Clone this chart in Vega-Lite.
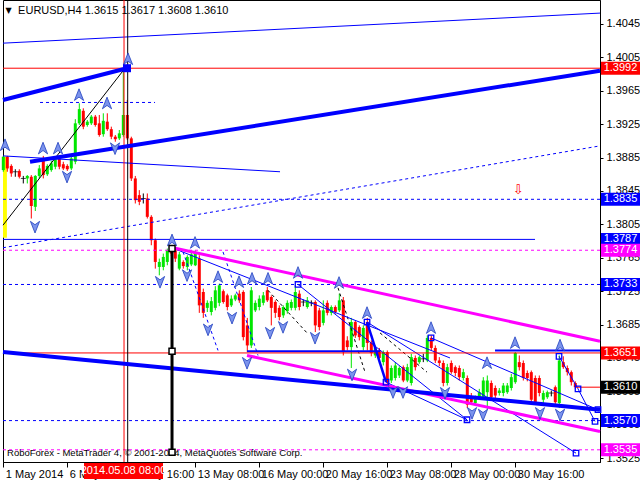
{
"$schema":"https://vega.github.io/schema/vega-lite/v6.json",
"width":597,"height":462,"autosize":{"type":"none"},
"padding":{"left":3,"top":0,"right":40,"bottom":18},
"background":"white",
"resolve":{"axis":{"x":"independent","y":"independent"}},
"config":{"view":{"stroke":"#000","strokeWidth":1},
 "axis":{"grid":false,"labelFont":"Liberation Sans","labelFontSize":11,"labelColor":"#000","domainColor":"#000","tickColor":"#000","labelOverlap":false,"labelFlush":false,"labelBound":false},
 "text":{"font":"Liberation Sans"}},
"datasets":{
"candles":[
{"x":0,"o":1.3870,"h":1.3887,"l":1.3868,"c":1.3886},
{"x":1,"o":1.3886,"h":1.3887,"l":1.3868,"c":1.3872},
{"x":2,"o":1.3875,"h":1.3877,"l":1.3862,"c":1.3866},
{"x":3,"o":1.3868,"h":1.3871,"l":1.3862,"c":1.3868},
{"x":4,"o":1.3869,"h":1.3871,"l":1.3860,"c":1.3862},
{"x":5,"o":1.3860,"h":1.3863,"l":1.3854,"c":1.3860},
{"x":6,"o":1.3860,"h":1.3864,"l":1.3854,"c":1.3863},
{"x":7,"o":1.3862,"h":1.3864,"l":1.3812,"c":1.3827},
{"x":8,"o":1.3826,"h":1.3864,"l":1.3821,"c":1.3863},
{"x":9,"o":1.3863,"h":1.3876,"l":1.3860,"c":1.3872},
{"x":10,"o":1.3884,"h":1.3887,"l":1.3860,"c":1.3864},
{"x":11,"o":1.3865,"h":1.3877,"l":1.3863,"c":1.3875},
{"x":12,"o":1.3870,"h":1.3881,"l":1.3868,"c":1.3878},
{"x":13,"o":1.3874,"h":1.3886,"l":1.3871,"c":1.3883},
{"x":14,"o":1.3884,"h":1.3887,"l":1.3871,"c":1.3874},
{"x":15,"o":1.3877,"h":1.3880,"l":1.3870,"c":1.3872},
{"x":16,"o":1.3875,"h":1.3877,"l":1.3869,"c":1.3871},
{"x":17,"o":1.3872,"h":1.3887,"l":1.3870,"c":1.3884},
{"x":18,"o":1.3880,"h":1.3931,"l":1.3877,"c":1.3926},
{"x":19,"o":1.3926,"h":1.3950,"l":1.3924,"c":1.3943},
{"x":20,"o":1.3941,"h":1.3944,"l":1.3919,"c":1.3922},
{"x":21,"o":1.3924,"h":1.3930,"l":1.3922,"c":1.3928},
{"x":22,"o":1.3926,"h":1.3936,"l":1.3924,"c":1.3934},
{"x":23,"o":1.3934,"h":1.3936,"l":1.3922,"c":1.3924},
{"x":24,"o":1.3926,"h":1.3936,"l":1.3910,"c":1.3912},
{"x":25,"o":1.3913,"h":1.3938,"l":1.3910,"c":1.3929},
{"x":26,"o":1.3928,"h":1.3938,"l":1.3917,"c":1.3919},
{"x":27,"o":1.3919,"h":1.3922,"l":1.3907,"c":1.3910},
{"x":28,"o":1.3910,"h":1.3912,"l":1.3904,"c":1.3907},
{"x":29,"o":1.3908,"h":1.3918,"l":1.3906,"c":1.3914},
{"x":30,"o":1.3912,"h":1.3992,"l":1.3910,"c":1.3936},
{"x":31,"o":1.3936,"h":1.3954,"l":1.3906,"c":1.3908},
{"x":32,"o":1.3908,"h":1.3910,"l":1.3857,"c":1.3860},
{"x":33,"o":1.3860,"h":1.3863,"l":1.3830,"c":1.3834},
{"x":34,"o":1.3840,"h":1.3846,"l":1.3828,"c":1.3832},
{"x":35,"o":1.3836,"h":1.3842,"l":1.3830,"c":1.3836},
{"x":36,"o":1.3836,"h":1.3842,"l":1.3812,"c":1.3814},
{"x":37,"o":1.3814,"h":1.3816,"l":1.3780,"c":1.3786},
{"x":38,"o":1.3786,"h":1.3788,"l":1.3752,"c":1.3760},
{"x":39,"o":1.3754,"h":1.3764,"l":1.3744,"c":1.3760},
{"x":40,"o":1.3754,"h":1.3770,"l":1.3750,"c":1.3766},
{"x":41,"o":1.3760,"h":1.3776,"l":1.3756,"c":1.3774},
{"x":42,"o":1.3774,"h":1.3779,"l":1.3767,"c":1.3770},
{"x":43,"o":1.3774,"h":1.3776,"l":1.3760,"c":1.3764},
{"x":44,"o":1.3752,"h":1.3772,"l":1.3750,"c":1.3769},
{"x":45,"o":1.3760,"h":1.3762,"l":1.3752,"c":1.3755},
{"x":46,"o":1.3754,"h":1.3768,"l":1.3750,"c":1.3766},
{"x":47,"o":1.3757,"h":1.3774,"l":1.3755,"c":1.3769},
{"x":48,"o":1.3756,"h":1.3774,"l":1.3755,"c":1.3772},
{"x":49,"o":1.3764,"h":1.3768,"l":1.3699,"c":1.3708},
{"x":50,"o":1.3724,"h":1.3728,"l":1.3693,"c":1.3699},
{"x":51,"o":1.3705,"h":1.3714,"l":1.3700,"c":1.3711},
{"x":52,"o":1.3700,"h":1.3718,"l":1.3696,"c":1.3713},
{"x":53,"o":1.3705,"h":1.3731,"l":1.3702,"c":1.3726},
{"x":54,"o":1.3711,"h":1.3734,"l":1.3707,"c":1.3732},
{"x":55,"o":1.3725,"h":1.3727,"l":1.3710,"c":1.3712},
{"x":56,"o":1.3720,"h":1.3722,"l":1.3702,"c":1.3706},
{"x":57,"o":1.3708,"h":1.3720,"l":1.3706,"c":1.3716},
{"x":58,"o":1.3715,"h":1.3722,"l":1.3713,"c":1.3720},
{"x":59,"o":1.3722,"h":1.3726,"l":1.3711,"c":1.3714},
{"x":60,"o":1.3724,"h":1.3726,"l":1.3666,"c":1.3670},
{"x":61,"o":1.3684,"h":1.3693,"l":1.3652,"c":1.3660},
{"x":62,"o":1.3660,"h":1.3730,"l":1.3657,"c":1.3726},
{"x":63,"o":1.3702,"h":1.3714,"l":1.3700,"c":1.3711},
{"x":64,"o":1.3706,"h":1.3720,"l":1.3702,"c":1.3716},
{"x":65,"o":1.3711,"h":1.3724,"l":1.3708,"c":1.3720},
{"x":66,"o":1.3726,"h":1.3730,"l":1.3712,"c":1.3714},
{"x":67,"o":1.3718,"h":1.3720,"l":1.3684,"c":1.3705},
{"x":68,"o":1.3712,"h":1.3714,"l":1.3693,"c":1.3699},
{"x":69,"o":1.3705,"h":1.3708,"l":1.3690,"c":1.3694},
{"x":70,"o":1.3696,"h":1.3708,"l":1.3693,"c":1.3706},
{"x":71,"o":1.3701,"h":1.3714,"l":1.3698,"c":1.3711},
{"x":72,"o":1.3705,"h":1.3715,"l":1.3702,"c":1.3712},
{"x":73,"o":1.3705,"h":1.3732,"l":1.3702,"c":1.3724},
{"x":74,"o":1.3722,"h":1.3726,"l":1.3702,"c":1.3706},
{"x":75,"o":1.3712,"h":1.3715,"l":1.3707,"c":1.3712},
{"x":76,"o":1.3706,"h":1.3718,"l":1.3704,"c":1.3714},
{"x":77,"o":1.3711,"h":1.3714,"l":1.3707,"c":1.3711},
{"x":78,"o":1.3712,"h":1.3714,"l":1.3676,"c":1.3684},
{"x":79,"o":1.3702,"h":1.3705,"l":1.3678,"c":1.3682},
{"x":80,"o":1.3687,"h":1.3714,"l":1.3684,"c":1.3702},
{"x":81,"o":1.3711,"h":1.3714,"l":1.3696,"c":1.3699},
{"x":82,"o":1.3699,"h":1.3708,"l":1.3696,"c":1.3706},
{"x":83,"o":1.3706,"h":1.3708,"l":1.3698,"c":1.3700},
{"x":84,"o":1.3702,"h":1.3722,"l":1.3700,"c":1.3714},
{"x":85,"o":1.3714,"h":1.3718,"l":1.3648,"c":1.3652},
{"x":86,"o":1.3666,"h":1.3671,"l":1.3654,"c":1.3658},
{"x":87,"o":1.3658,"h":1.3693,"l":1.3633,"c":1.3688},
{"x":88,"o":1.3688,"h":1.3690,"l":1.3669,"c":1.3672},
{"x":89,"o":1.3682,"h":1.3684,"l":1.3666,"c":1.3670},
{"x":90,"o":1.3658,"h":1.3684,"l":1.3654,"c":1.3681},
{"x":91,"o":1.3688,"h":1.3693,"l":1.3654,"c":1.3663},
{"x":92,"o":1.3663,"h":1.3666,"l":1.3647,"c":1.3651},
{"x":93,"o":1.3648,"h":1.3660,"l":1.3645,"c":1.3657},
{"x":94,"o":1.3654,"h":1.3657,"l":1.3642,"c":1.3645},
{"x":95,"o":1.3640,"h":1.3654,"l":1.3636,"c":1.3652},
{"x":96,"o":1.3652,"h":1.3654,"l":1.3612,"c":1.3616},
{"x":97,"o":1.3618,"h":1.3636,"l":1.3615,"c":1.3633},
{"x":98,"o":1.3621,"h":1.3640,"l":1.3618,"c":1.3636},
{"x":99,"o":1.3624,"h":1.3635,"l":1.3621,"c":1.3633},
{"x":100,"o":1.3634,"h":1.3636,"l":1.3616,"c":1.3618},
{"x":101,"o":1.3618,"h":1.3638,"l":1.3616,"c":1.3634},
{"x":102,"o":1.3615,"h":1.3650,"l":1.3612,"c":1.3646},
{"x":103,"o":1.3645,"h":1.3648,"l":1.3630,"c":1.3634},
{"x":104,"o":1.3640,"h":1.3648,"l":1.3638,"c":1.3646},
{"x":105,"o":1.3644,"h":1.3650,"l":1.3640,"c":1.3644},
{"x":106,"o":1.3642,"h":1.3672,"l":1.3640,"c":1.3669},
{"x":107,"o":1.3669,"h":1.3672,"l":1.3654,"c":1.3657},
{"x":108,"o":1.3657,"h":1.3660,"l":1.3639,"c":1.3642},
{"x":109,"o":1.3642,"h":1.3646,"l":1.3635,"c":1.3639},
{"x":110,"o":1.3639,"h":1.3642,"l":1.3611,"c":1.3615},
{"x":111,"o":1.3615,"h":1.3638,"l":1.3612,"c":1.3634},
{"x":112,"o":1.3639,"h":1.3642,"l":1.3626,"c":1.3628},
{"x":113,"o":1.3634,"h":1.3636,"l":1.3623,"c":1.3627},
{"x":114,"o":1.3633,"h":1.3636,"l":1.3618,"c":1.3622},
{"x":115,"o":1.3621,"h":1.3632,"l":1.3618,"c":1.3628},
{"x":116,"o":1.3621,"h":1.3624,"l":1.3585,"c":1.3589},
{"x":117,"o":1.3599,"h":1.3603,"l":1.3589,"c":1.3592},
{"x":118,"o":1.3591,"h":1.3600,"l":1.3588,"c":1.3597},
{"x":119,"o":1.3597,"h":1.3608,"l":1.3595,"c":1.3604},
{"x":120,"o":1.3598,"h":1.3622,"l":1.3595,"c":1.3618},
{"x":121,"o":1.3604,"h":1.3624,"l":1.3583,"c":1.3618},
{"x":122,"o":1.3615,"h":1.3618,"l":1.3595,"c":1.3598},
{"x":123,"o":1.3609,"h":1.3612,"l":1.3597,"c":1.3600},
{"x":124,"o":1.3603,"h":1.3609,"l":1.3600,"c":1.3606},
{"x":125,"o":1.3603,"h":1.3615,"l":1.3599,"c":1.3612},
{"x":126,"o":1.3604,"h":1.3615,"l":1.3602,"c":1.3612},
{"x":127,"o":1.3609,"h":1.3626,"l":1.3606,"c":1.3622},
{"x":128,"o":1.3616,"h":1.3652,"l":1.3614,"c":1.3651},
{"x":129,"o":1.3640,"h":1.3648,"l":1.3630,"c":1.3634},
{"x":130,"o":1.3639,"h":1.3642,"l":1.3618,"c":1.3621},
{"x":131,"o":1.3627,"h":1.3630,"l":1.3617,"c":1.3621},
{"x":132,"o":1.3628,"h":1.3630,"l":1.3592,"c":1.3595},
{"x":133,"o":1.3621,"h":1.3624,"l":1.3589,"c":1.3592},
{"x":134,"o":1.3621,"h":1.3624,"l":1.3599,"c":1.3603},
{"x":135,"o":1.3595,"h":1.3606,"l":1.3591,"c":1.3603},
{"x":136,"o":1.3598,"h":1.3606,"l":1.3596,"c":1.3604},
{"x":137,"o":1.3603,"h":1.3606,"l":1.3599,"c":1.3603},
{"x":138,"o":1.3610,"h":1.3612,"l":1.3590,"c":1.3592},
{"x":139,"o":1.3591,"h":1.3648,"l":1.3585,"c":1.3642},
{"x":140,"o":1.3640,"h":1.3647,"l":1.3632,"c":1.3634},
{"x":141,"o":1.3633,"h":1.3636,"l":1.3624,"c":1.3628},
{"x":142,"o":1.3628,"h":1.3630,"l":1.3612,"c":1.3616},
{"x":143,"o":1.3615,"h":1.3617,"l":1.3608,"c":1.3610}
],
"segs":[
{"kind":"key","x":-0.075,"y":1.3992,"x2":149.175,"y2":1.3992},
{"kind":"key","x":-0.075,"y":1.3651,"x2":149.175,"y2":1.3651},
{"kind":"key","x":143,"y":1.3610,"x2":149.175,"y2":1.3610},
{"kind":"level","x":-0.075,"y":1.3835,"x2":149.175,"y2":1.3835},
{"kind":"level","x":-0.075,"y":1.3733,"x2":149.175,"y2":1.3733},
{"kind":"level","x":-0.075,"y":1.3570,"x2":149.175,"y2":1.3570},
{"kind":"level","x":9.18,"y":1.3951,"x2":37.93,"y2":1.3951},
{"kind":"level","x":-0.075,"y":1.3777,"x2":149.175,"y2":1.3899},
{"kind":"level","x":44.93,"y":1.3772,"x2":53.68,"y2":1.3654},
{"kind":"level","x":54.93,"y":1.3772,"x2":63.68,"y2":1.3648},
{"kind":"target","x":-0.075,"y":1.3774,"x2":149.175,"y2":1.3774},
{"kind":"target","x":-0.075,"y":1.3535,"x2":149.175,"y2":1.3535},
{"kind":"trend","x":-0.075,"y":1.4022,"x2":149.175,"y2":1.4058},
{"kind":"trend","x":-0.075,"y":1.3887,"x2":69.18,"y2":1.3868},
{"kind":"trend","x":-0.075,"y":1.3787,"x2":132.93,"y2":1.3787},
{"kind":"trend","x":42.18,"y":1.3777,"x2":111.68,"y2":1.3645},
{"kind":"trend","x":73.68,"y":1.3733,"x2":115.93,"y2":1.3571},
{"kind":"trend","x":90.93,"y":1.3688,"x2":143.18,"y2":1.3531},
{"kind":"trend","x":106.93,"y":1.3669,"x2":148.68,"y2":1.3583},
{"kind":"trend","x":138.93,"y":1.3647,"x2":143.68,"y2":1.3608},
{"kind":"trend","x":143.68,"y":1.3608,"x2":147.93,"y2":1.3569},
{"kind":"trend","x":95.68,"y":1.3616,"x2":115.93,"y2":1.3571},
{"kind":"zone","x":60.93,"y":1.3653,"x2":94.18,"y2":1.3653},
{"kind":"zone","x":122.93,"y":1.3654,"x2":149.175,"y2":1.3654},
{"kind":"channel","x":-0.075,"y":1.3954,"x2":30.93,"y2":1.3992},
{"kind":"channel","x":6.68,"y":1.3880,"x2":149.175,"y2":1.3989},
{"kind":"channel","x":-0.075,"y":1.3652,"x2":149.175,"y2":1.3583},
{"kind":"forecast","x":90.93,"y":1.3688,"x2":95.68,"y2":1.3616},
{"kind":"band","x":42.43,"y":1.3777,"x2":149.175,"y2":1.3665},
{"kind":"band","x":60.93,"y":1.3648,"x2":149.175,"y2":1.3557},
{"kind":"guide","x":-0.075,"y":1.3804,"x2":30.43,"y2":1.3992},
{"kind":"path","x":66.18,"y":1.3726,"x2":75.93,"y2":1.3675},
{"kind":"path","x":83.68,"y":1.3729,"x2":90.43,"y2":1.3628},
{"kind":"path","x":94.18,"y":1.3675,"x2":105.93,"y2":1.3628},
{"kind":"marker","x":42.18,"y":1.3777,"x2":42.18,"y2":1.3532},
{"kind":"cross","x":30.18,"y":1.35204,"x2":30.18,"y2":1.40737},
{"kind":"cursor","x":31.1,"y":1.35204,"x2":31.1,"y2":1.40737}
],
"pts":[
{"kind":"up","x":0.43,"y":1.3900},{"kind":"up","x":9.93,"y":1.3896},{"kind":"up","x":13.68,"y":1.3896},
{"kind":"up","x":18.93,"y":1.3960},{"kind":"up","x":25.93,"y":1.3950},{"kind":"up","x":31.18,"y":1.4003},
{"kind":"up","x":42.18,"y":1.3786},{"kind":"up","x":47.93,"y":1.3783},{"kind":"up","x":53.68,"y":1.3742},
{"kind":"up","x":58.93,"y":1.3736},{"kind":"up","x":62.18,"y":1.3740},{"kind":"up","x":66.18,"y":1.3740},
{"kind":"up","x":73.68,"y":1.3747},{"kind":"up","x":83.93,"y":1.3735},{"kind":"up","x":90.93,"y":1.3699},
{"kind":"up","x":106.93,"y":1.3681},{"kind":"up","x":120.93,"y":1.3639},{"kind":"up","x":127.93,"y":1.3663},
{"kind":"up","x":139.18,"y":1.3660},
{"kind":"down","x":7.93,"y":1.3802},{"kind":"down","x":15.93,"y":1.3862},{"kind":"down","x":27.93,"y":1.3896},
{"kind":"down","x":39.18,"y":1.3736},{"kind":"down","x":45.93,"y":1.3744},{"kind":"down","x":51.18,"y":1.3679},
{"kind":"down","x":57.18,"y":1.3693},{"kind":"down","x":60.93,"y":1.3639},{"kind":"down","x":66.68,"y":1.3675},
{"kind":"down","x":69.93,"y":1.3682},{"kind":"down","x":77.93,"y":1.3669},{"kind":"down","x":87.18,"y":1.3625},
{"kind":"down","x":97.43,"y":1.3604},{"kind":"down","x":99.93,"y":1.3604},{"kind":"down","x":110.43,"y":1.3603},
{"kind":"down","x":117.18,"y":1.3579},{"kind":"down","x":119.93,"y":1.3577},{"kind":"down","x":134.18,"y":1.3579},
{"kind":"down","x":139.18,"y":1.3577},
{"kind":"box","x":73.68,"y":1.3733},{"kind":"box","x":90.93,"y":1.3688},{"kind":"box","x":95.68,"y":1.3616},
{"kind":"box","x":106.93,"y":1.3669},{"kind":"box","x":115.93,"y":1.3571},{"kind":"box","x":138.93,"y":1.3647},
{"kind":"box","x":143.68,"y":1.3608},{"kind":"box","x":147.93,"y":1.3569},{"kind":"box","x":148.68,"y":1.3583},
{"kind":"box","x":143.18,"y":1.3531},
{"kind":"pivot","x":42.18,"y":1.3776},{"kind":"pivot","x":42.18,"y":1.3653},{"kind":"pivot","x":42.18,"y":1.3532},
{"kind":"peak","x":30.93,"y":1.3992}
],
"tags":[
{"y":1.3992,"kind":"key"},{"y":1.3835,"kind":"level"},{"y":1.3787,"kind":"level"},
{"y":1.3774,"kind":"target"},{"y":1.3733,"kind":"level"},{"y":1.3651,"kind":"key"},
{"y":1.3610,"kind":"bid"},{"y":1.3570,"kind":"level"},{"y":1.3535,"kind":"target"}
]
},
"layer":[
{"data":{"values":[{"x":-0.075,"x2":0.9,"y":1.3886,"y2":1.3789}]},
 "mark":{"type":"rect","color":"#ffff00"},
 "encoding":{
  "x":{"field":"x","type":"quantitative","title":null,"scale":{"domain":[-0.075,149.175],"nice":false,"zero":false},
   "axis":{"orient":"bottom","title":null,"values":[0,16,32,48,64,80,96,112,128],
    "labelExpr":"datum.value==0?'1 May 2014':datum.value==16?'6 May 00:00':datum.value==32?'8 May 16:00':datum.value==48?'13 May 08:00':datum.value==64?'16 May 00:00':datum.value==80?'20 May 16:00':datum.value==96?'23 May 08:00':datum.value==112?'28 May 00:00':'30 May 16:00'",
    "labelAlign":"left","labelOffset":2,"tickSize":5,"labelPadding":1,"labelOverlap":false,"labelFlush":false}},
  "x2":{"field":"x2"},
  "y":{"field":"y","type":"quantitative","title":null,"scale":{"domain":[1.35204,1.40737],"nice":false,"zero":false},
   "axis":{"orient":"right","title":null,"values":[1.4045,1.4005,1.3965,1.3925,1.3885,1.3845,1.3805,1.3765,1.3725,1.3685,1.3645,1.3605,1.3565,1.3525],
    "format":".4f","tickSize":3,"labelPadding":3,"labelOverlap":false,"labelFlush":false}},
  "y2":{"field":"y2"}}},
{"data":{"values":[{"t":"RoboForex - MetaTrader 4, © 2001-2014, MetaQuotes Software Corp."}]},
 "mark":{"type":"text","align":"left","baseline":"middle","fontSize":9.5,"color":"#000","font":"Liberation Sans"},
 "encoding":{"x":{"datum":0.93,"type":"quantitative","axis":null},
  "y":{"datum":1.3531,"type":"quantitative","axis":null},
  "text":{"field":"t"}}},
{"data":{"name":"candles"},
 "mark":{"type":"rule","strokeWidth":1},
 "encoding":{"x":{"field":"x","type":"quantitative","axis":null},
  "y":{"field":"l","type":"quantitative","axis":null},
  "y2":{"field":"h"},
  "color":{"condition":[{"test":"datum.c>datum.o","value":"#00e600"},{"test":"datum.c<datum.o","value":"#ff0000"}],"value":"#000000"}}},
{"data":{"name":"candles"},
 "mark":{"type":"rule","strokeWidth":3},
 "encoding":{"x":{"field":"x","type":"quantitative","axis":null},
  "y":{"field":"o","type":"quantitative","axis":null},
  "y2":{"field":"c"},
  "color":{"condition":[{"test":"datum.c>datum.o","value":"#00e600"},{"test":"datum.c<datum.o","value":"#ff0000"}],"value":"#000000"}}},
{"data":{"name":"candles"},
 "transform":[{"filter":"datum.o==datum.c"}],
 "mark":{"type":"tick","orient":"horizontal","size":5,"thickness":1,"color":"#000000"},
 "encoding":{"x":{"field":"x","type":"quantitative","axis":null},
  "y":{"field":"o","type":"quantitative","axis":null}}},
{"data":{"name":"segs"},"transform":[{"filter":"datum.kind=='level'"}],
 "mark":{"type":"rule","color":"#0000ff","strokeWidth":1,"strokeDash":[3,3]},
 "encoding":{"x":{"field":"x","type":"quantitative","axis":null},"x2":{"field":"x2"},
  "y":{"field":"y","type":"quantitative","axis":null},"y2":{"field":"y2"}}},
{"data":{"name":"segs"},"transform":[{"filter":"datum.kind=='target'"}],
 "mark":{"type":"rule","color":"#ff00ff","strokeWidth":1,"strokeDash":[3,3]},
 "encoding":{"x":{"field":"x","type":"quantitative","axis":null},"x2":{"field":"x2"},
  "y":{"field":"y","type":"quantitative","axis":null},"y2":{"field":"y2"}}},
{"data":{"name":"segs"},"transform":[{"filter":"datum.kind=='path'"}],
 "mark":{"type":"rule","color":"#000000","strokeWidth":1,"strokeDash":[3,3]},
 "encoding":{"x":{"field":"x","type":"quantitative","axis":null},"x2":{"field":"x2"},
  "y":{"field":"y","type":"quantitative","axis":null},"y2":{"field":"y2"}}},
{"data":{"name":"segs"},"transform":[{"filter":"datum.kind=='trend'"}],
 "mark":{"type":"rule","color":"#0000ff","strokeWidth":1},
 "encoding":{"x":{"field":"x","type":"quantitative","axis":null},"x2":{"field":"x2"},
  "y":{"field":"y","type":"quantitative","axis":null},"y2":{"field":"y2"}}},
{"data":{"name":"segs"},"transform":[{"filter":"datum.kind=='zone'"}],
 "mark":{"type":"rule","color":"#0000ff","strokeWidth":2},
 "encoding":{"x":{"field":"x","type":"quantitative","axis":null},"x2":{"field":"x2"},
  "y":{"field":"y","type":"quantitative","axis":null},"y2":{"field":"y2"}}},
{"data":{"name":"segs"},"transform":[{"filter":"datum.kind=='key'"}],
 "mark":{"type":"rule","color":"#ff0000","strokeWidth":1},
 "encoding":{"x":{"field":"x","type":"quantitative","axis":null},"x2":{"field":"x2"},
  "y":{"field":"y","type":"quantitative","axis":null},"y2":{"field":"y2"}}},
{"data":{"name":"segs"},"transform":[{"filter":"datum.kind=='cross'"}],
 "mark":{"type":"rule","color":"#ff0000","strokeWidth":1},
 "encoding":{"x":{"field":"x","type":"quantitative","axis":null},"x2":{"field":"x2"},
  "y":{"field":"y","type":"quantitative","axis":null},"y2":{"field":"y2"}}},
{"data":{"name":"segs"},"transform":[{"filter":"datum.kind=='cursor' || datum.kind=='guide'"}],
 "mark":{"type":"rule","color":"#000000","strokeWidth":1},
 "encoding":{"x":{"field":"x","type":"quantitative","axis":null},"x2":{"field":"x2"},
  "y":{"field":"y","type":"quantitative","axis":null},"y2":{"field":"y2"}}},
{"data":{"name":"segs"},"transform":[{"filter":"datum.kind=='band'"}],
 "mark":{"type":"rule","color":"#ff00ff","strokeWidth":3},
 "encoding":{"x":{"field":"x","type":"quantitative","axis":null},"x2":{"field":"x2"},
  "y":{"field":"y","type":"quantitative","axis":null},"y2":{"field":"y2"}}},
{"data":{"name":"segs"},"transform":[{"filter":"datum.kind=='channel'"}],
 "mark":{"type":"rule","color":"#0000ff","strokeWidth":4},
 "encoding":{"x":{"field":"x","type":"quantitative","axis":null},"x2":{"field":"x2"},
  "y":{"field":"y","type":"quantitative","axis":null},"y2":{"field":"y2"}}},
{"data":{"name":"segs"},"transform":[{"filter":"datum.kind=='forecast'"}],
 "mark":{"type":"rule","color":"#0000ff","strokeWidth":2.5},
 "encoding":{"x":{"field":"x","type":"quantitative","axis":null},"x2":{"field":"x2"},
  "y":{"field":"y","type":"quantitative","axis":null},"y2":{"field":"y2"}}},
{"data":{"name":"segs"},"transform":[{"filter":"datum.kind=='marker'"}],
 "mark":{"type":"rule","color":"#000000","strokeWidth":3},
 "encoding":{"x":{"field":"x","type":"quantitative","axis":null},"x2":{"field":"x2"},
  "y":{"field":"y","type":"quantitative","axis":null},"y2":{"field":"y2"}}},
{"data":{"name":"pts"},"transform":[{"filter":"datum.kind=='up'"}],
 "mark":{"type":"point","shape":"M0,-1L0.75,0.9L0,0.35L-0.75,0.9Z","size":150,"filled":true,"fill":"#7b93ec","stroke":"#1f3fbf","strokeWidth":0.8,"opacity":1},
 "encoding":{"x":{"field":"x","type":"quantitative","axis":null},
  "y":{"field":"y","type":"quantitative","axis":null}}},
{"data":{"name":"pts"},"transform":[{"filter":"datum.kind=='down'"}],
 "mark":{"type":"point","shape":"M0,1L0.75,-0.9L0,-0.35L-0.75,-0.9Z","size":150,"filled":true,"fill":"#7b93ec","stroke":"#1f3fbf","strokeWidth":0.8,"opacity":1},
 "encoding":{"x":{"field":"x","type":"quantitative","axis":null},
  "y":{"field":"y","type":"quantitative","axis":null}}},
{"data":{"name":"pts"},"transform":[{"filter":"datum.kind=='box'"}],
 "mark":{"type":"point","shape":"square","size":30,"filled":false,"stroke":"#0000ff","strokeWidth":1.3,"opacity":1},
 "encoding":{"x":{"field":"x","type":"quantitative","axis":null},
  "y":{"field":"y","type":"quantitative","axis":null}}},
{"data":{"name":"pts"},"transform":[{"filter":"datum.kind=='pivot'"}],
 "mark":{"type":"point","shape":"square","size":36,"filled":true,"fill":"#ffffff","stroke":"#000000","strokeWidth":1.5,"opacity":1},
 "encoding":{"x":{"field":"x","type":"quantitative","axis":null},
  "y":{"field":"y","type":"quantitative","axis":null}}},
{"data":{"name":"pts"},"transform":[{"filter":"datum.kind=='peak'"}],
 "mark":{"type":"point","shape":"square","size":64,"filled":true,"fill":"#0000ff","opacity":1},
 "encoding":{"x":{"field":"x","type":"quantitative","axis":null},
  "y":{"field":"y","type":"quantitative","axis":null}}},
{"data":{"values":[{"t":"⇩"}]},
 "mark":{"type":"text","align":"center","baseline":"middle","fontSize":13,"color":"#ff0000","font":"DejaVu Sans"},
 "encoding":{"x":{"datum":128.7,"type":"quantitative","axis":null},
  "y":{"datum":1.3846,"type":"quantitative","axis":null},
  "text":{"field":"t"}}},
{"data":{"values":[{"t":"EURUSD,H4  1.3615 1.3617 1.3608 1.3610"}]},
 "mark":{"type":"text","align":"left","baseline":"middle","fontSize":11,"color":"#000","font":"Liberation Sans"},
 "encoding":{"x":{"datum":3.7,"type":"quantitative","axis":null},
  "y":{"datum":1.4061,"type":"quantitative","axis":null},
  "text":{"field":"t"}}},
{"data":{"values":[{"t":"▼"}]},
 "mark":{"type":"text","align":"center","baseline":"middle","fontSize":8,"color":"#000","font":"DejaVu Sans"},
 "encoding":{"x":{"datum":1.3,"type":"quantitative","axis":null},
  "y":{"datum":1.4061,"type":"quantitative","axis":null},
  "text":{"field":"t"}}},
{"data":{"name":"tags"},
 "mark":{"type":"point","shape":"M-1,-0.333L1,-0.333L1,0.333L-1,0.333Z","size":1521,"filled":true,"opacity":1,"clip":false},
 "encoding":{"x":{"datum":154.3,"type":"quantitative","axis":null},
  "y":{"field":"y","type":"quantitative","axis":null},
  "color":{"field":"kind","type":"nominal","scale":{"domain":["key","level","target","bid"],"range":["#ff0000","#0000ff","#ff00ff","#000000"]},"legend":null}}},
{"data":{"name":"tags"},
 "mark":{"type":"text","align":"center","baseline":"middle","fontSize":11,"color":"#ffffff","font":"Liberation Sans","clip":false},
 "encoding":{"x":{"datum":154.3,"type":"quantitative","axis":null},
  "y":{"field":"y","type":"quantitative","axis":null},
  "text":{"field":"y","type":"quantitative","format":".4f"}}},
{"data":{"values":[{"t":"2014.05.08 08:00"}]},
 "mark":{"type":"point","shape":"M-1,-0.2025L1,-0.2025L1,0.2025L-1,0.2025Z","size":6241,"filled":true,"color":"#ff0000","opacity":1,"clip":false},
 "encoding":{"x":{"datum":30.05,"type":"quantitative","axis":null},
  "y":{"datum":1.35096,"type":"quantitative","axis":null}}},
{"data":{"values":[{"t":"2014.05.08 08:00"}]},
 "mark":{"type":"text","align":"center","baseline":"middle","fontSize":11,"color":"#ffffff","font":"Liberation Sans","clip":false},
 "encoding":{"x":{"datum":30.05,"type":"quantitative","axis":null},
  "y":{"datum":1.35096,"type":"quantitative","axis":null},
  "text":{"field":"t"}}}
]
}
